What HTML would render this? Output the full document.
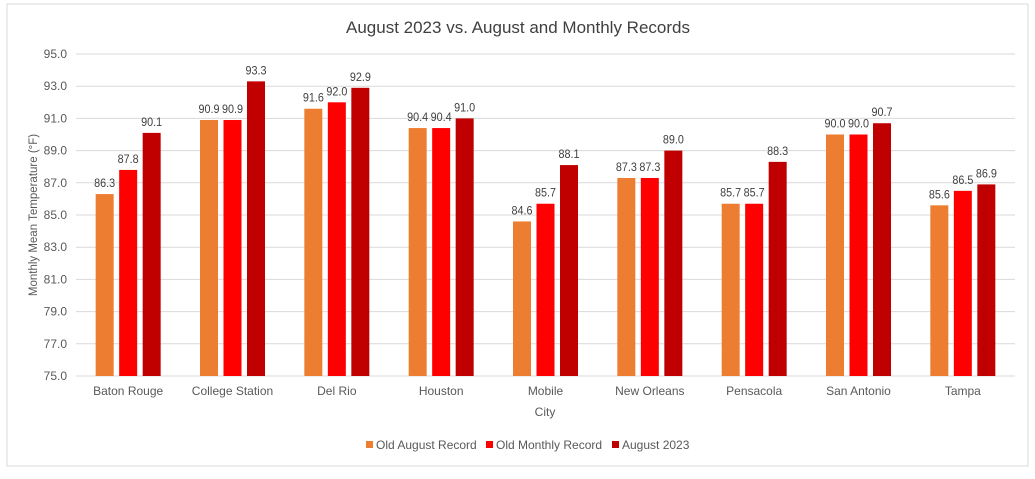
<!DOCTYPE html>
<html><head><meta charset="utf-8"><style>
body{margin:0;background:#fff;font-family:"Liberation Sans",sans-serif;}
svg text{font-family:"Liberation Sans",sans-serif;}
</style></head><body>
<svg width="1035" height="474">
<rect x="7" y="4" width="1021" height="462" fill="#fff" stroke="#d9d9d9"/>
<text x="518" y="33" text-anchor="middle" font-size="17" fill="#404040">August 2023 vs. August and Monthly Records</text>
<g id="grid"></g><g id="bars"></g>
<text transform="translate(37,215) rotate(-90)" text-anchor="middle" font-size="11.5" fill="#595959">Monthly Mean Temperature (°F)</text>
<text x="545" y="416" text-anchor="middle" font-size="12" fill="#595959">City</text>
<g id="legend"></g>
</svg>
<script>
const cities=["Baton Rouge","College Station","Del Rio","Houston","Mobile","New Orleans","Pensacola","San Antonio","Tampa"];
const oldAugust=[86.3,90.9,91.6,90.4,84.6,87.3,85.7,90.0,85.6];
const oldMonthly=[87.8,90.9,92.0,90.4,85.7,87.3,85.7,90.0,86.5];
const aug2023=[90.1,93.3,92.9,91.0,88.1,89.0,88.3,90.7,86.9];
const yTicks=[75,77,79,81,83,85,87,89,91,93,95];
const seriesNames=["Old August Record","Old Monthly Record","August 2023"];
const colors=["#ed7d31","#ff0000","#c00000"];
const NS="http://www.w3.org/2000/svg";
const L=76,R=1015,T=54,B=376,ymin=75,ymax=95;
const y=v=>B-(v-ymin)/(ymax-ymin)*(B-T);
const step=(R-L)/cities.length;
const xc=i=>L+step*(i+0.5);
function mk(tag,attrs,parent,txt){const e=document.createElementNS(NS,tag);for(const k in attrs)e.setAttribute(k,attrs[k]);if(txt!==undefined)e.textContent=txt;parent.appendChild(e);return e;}
const grid=document.getElementById('grid'),bars=document.getElementById('bars'),leg=document.getElementById('legend');
yTicks.forEach(t=>{
 const g=mk('line',{x1:L,x2:R,y1:y(t),y2:y(t),stroke:'#d9d9d9','stroke-width':1},grid);
 
 
 const tx=mk('text',{x:67,y:y(t)+4,'text-anchor':'end','font-size':12,fill:'#595959'},grid,t.toFixed(1));
 
 
});
const series=[oldAugust,oldMonthly,aug2023];
cities.forEach((c,i)=>{
 series.forEach((s,j)=>{
  const bx=xc(i)+(j-1)*23.5-9;
  const r=mk('rect',{x:bx,y:y(s[i]),width:18,height:B-y(s[i]),fill:colors[j]},bars);
  
  
  const lb=mk('text',{x:bx+9,y:y(s[i])-7,'text-anchor':'middle','font-size':12,textLength:21,lengthAdjust:'spacingAndGlyphs',fill:'#404040'},bars,s[i].toFixed(1));
  
  
 });
 const cl=mk('text',{x:xc(i),y:395,'text-anchor':'middle','font-size':12,fill:'#595959'},bars,c);
 
 
});
const lx=[366,486,612];
seriesNames.forEach((n,j)=>{
 const r=mk('rect',{x:lx[j],y:441,width:7,height:7,fill:colors[j]},leg);
 
 
 const t=mk('text',{x:lx[j]+10,y:449,'font-size':12,fill:'#595959'},leg,n);
 
 
});
</script>
</body></html>
